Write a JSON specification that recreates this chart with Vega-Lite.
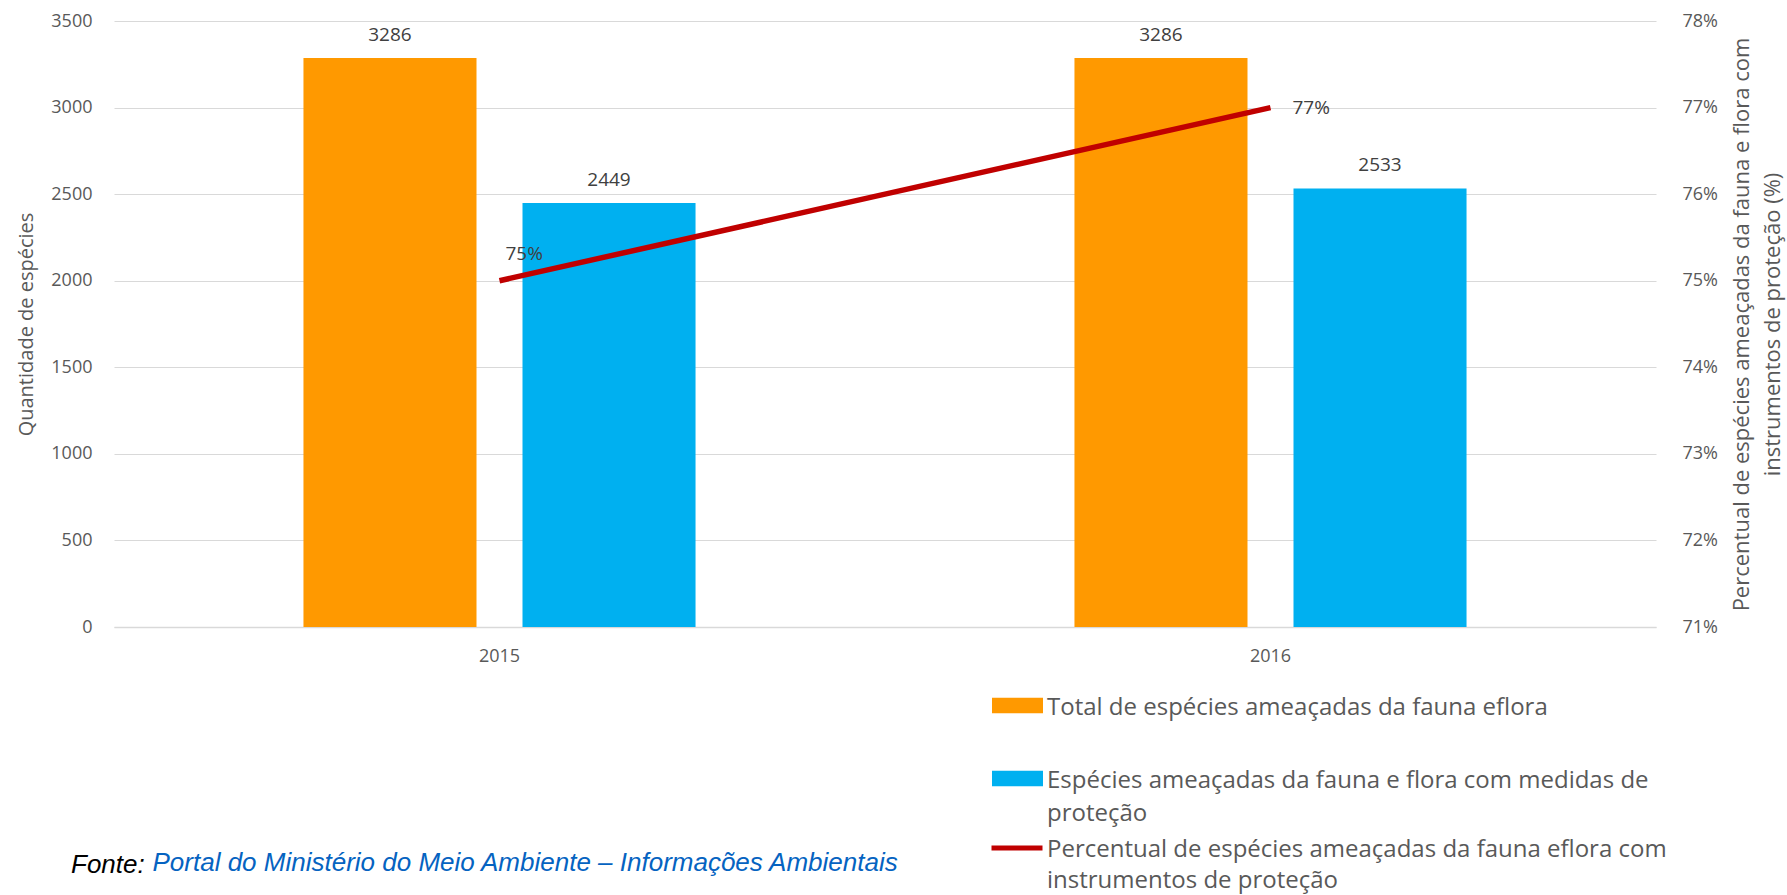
{
  "$schema": "https://vega.github.io/schema/vega-lite/v6.json",
  "autosize": {"type": "none"},
  "padding": {"left": 114, "top": 21, "right": 131, "bottom": 268},
  "width": 1542,
  "height": 606,
  "background": "white",
  "config": {"font": "Open Sans", "view": {"stroke": null}},
  "title": {
    "text": "Fonte:",
    "orient": "bottom",
    "anchor": "start",
    "frame": "group",
    "baseline": "alphabetic",
    "offset": -20,
    "dx": -43,
    "font": "Liberation Sans",
    "fontStyle": "italic",
    "fontWeight": "normal",
    "fontSize": 26,
    "color": "#000000"
  },
  "datasets": {
    "barras": [
      {"ano": "2015", "serie": "Total de espécies ameaçadas da fauna eflora", "quantidade": 3286},
      {"ano": "2015", "serie": "Espécies ameaçadas da fauna e flora com medidas de proteção", "quantidade": 2449},
      {"ano": "2016", "serie": "Total de espécies ameaçadas da fauna eflora", "quantidade": 3286},
      {"ano": "2016", "serie": "Espécies ameaçadas da fauna e flora com medidas de proteção", "quantidade": 2533}
    ],
    "linha": [
      {"ano": "2015", "serie": "Percentual de espécies ameaçadas da fauna eflora com instrumentos de proteção", "percentual": 0.75},
      {"ano": "2016", "serie": "Percentual de espécies ameaçadas da fauna eflora com instrumentos de proteção", "percentual": 0.77}
    ]
  },
  "encoding": {
    "x": {
      "field": "ano",
      "type": "nominal",
      "scale": {"paddingInner": 0, "paddingOuter": 0},
      "axis": {
        "title": "Portal do Ministério do Meio Ambiente – Informações Ambientais",
        "titleX": 38,
        "titleY": 243,
        "titleAlign": "left",
        "titleBaseline": "alphabetic",
        "titleColor": "#0563C1",
        "titleFont": "Liberation Sans",
        "titleFontStyle": "italic",
        "titleFontWeight": "normal",
        "titleFontSize": 26,
        "labelAngle": 0,
        "labelFontSize": 18,
        "labelColor": "#595959",
        "labelPadding": 20,
        "ticks": false,
        "domainColor": "#D9D9D9",
        "domainWidth": 1.5,
        "grid": false
      }
    }
  },
  "layer": [
    {
      "data": {"name": "barras"},
      "encoding": {
        "xOffset": {
          "field": "serie",
          "type": "nominal",
          "sort": ["Total de espécies ameaçadas da fauna eflora", "Espécies ameaçadas da fauna e flora com medidas de proteção"],
          "scale": {"paddingInner": 0.21, "paddingOuter": 0.865}
        },
        "y": {
          "field": "quantidade",
          "type": "quantitative",
          "scale": {"domain": [0, 3500], "nice": false},
          "axis": {
            "values": [0, 500, 1000, 1500, 2000, 2500, 3000, 3500],
            "format": "d",
            "title": "Quantidade de espécies",
            "titleFontSize": 20,
            "titleColor": "#595959",
            "titleFontWeight": "normal",
            "titlePadding": 14,
            "labelFontSize": 18,
            "labelColor": "#595959",
            "labelPadding": 22,
            "ticks": false,
            "domain": false,
            "gridColor": "#D9D9D9",
            "gridWidth": 1.2
          }
        }
      },
      "layer": [
        {
          "mark": {"type": "bar"},
          "encoding": {
            "fill": {
              "field": "serie",
              "type": "nominal",
              "scale": {
                "domain": ["Total de espécies ameaçadas da fauna eflora", "Espécies ameaçadas da fauna e flora com medidas de proteção"],
                "range": ["#FF9900", "#00B0F0"]
              },
              "legend": {
                "orient": "none",
                "legendX": 878,
                "legendY": 659,
                "title": null,
                "padding": 0,
                "symbolType": "M-1,-0.3H1V0.3H-1Z",
                "symbolSize": 2601,
                "symbolStrokeWidth": 0,
                "symbolOpacity": 1,
                "labelFontSize": 24,
                "labelColor": "#595959",
                "labelLimit": 900,
                "labelOffset": 4,
                "labelBaseline": "alphabetic",
                "rowPadding": 33,
                "labelExpr": "datum.label == 'Espécies ameaçadas da fauna e flora com medidas de proteção' ? ['Espécies ameaçadas da fauna e flora com medidas de', 'proteção'] : datum.label",
                "encode": {"labels": {"update": {"dy": {"value": 9}, "lineHeight": {"value": 33}}}}
              }
            }
          }
        },
        {
          "mark": {"type": "text", "baseline": "middle", "dy": -23, "fontSize": 19, "fill": "#404040"},
          "encoding": {"text": {"field": "quantidade", "type": "quantitative", "format": "d"}}
        }
      ]
    },
    {
      "data": {"name": "linha"},
      "encoding": {
        "y": {
          "field": "percentual",
          "type": "quantitative",
          "scale": {"domain": [0.71, 0.78], "nice": false, "zero": false},
          "axis": {
            "orient": "right",
            "values": [0.71, 0.72, 0.73, 0.74, 0.75, 0.76, 0.77, 0.78],
            "format": ".0%",
            "title": ["Percentual de espécies ameaçadas da fauna e flora com", "instrumentos de proteção (%)"],
            "titleAngle": 270,
            "titleBaseline": "top",
            "titleFontSize": 22,
            "titleLineHeight": 31,
            "titleColor": "#595959",
            "titleFontWeight": "normal",
            "titlePadding": -17,
            "labelFontSize": 18,
            "labelColor": "#595959",
            "labelPadding": 26,
            "ticks": false,
            "domain": false,
            "grid": false
          }
        }
      },
      "layer": [
        {
          "mark": {"type": "line", "strokeWidth": 5.5},
          "encoding": {
            "stroke": {
              "field": "serie",
              "type": "nominal",
              "scale": {"range": ["#C00000"]},
              "legend": {
                "orient": "none",
                "legendX": 875,
                "legendY": 799,
                "title": null,
                "padding": 0,
                "symbolType": "M-1,0H1",
                "symbolSize": 2601,
                "symbolStrokeWidth": 5,
                "labelFontSize": 24,
                "labelColor": "#595959",
                "labelLimit": 900,
                "labelOffset": 2,
                "labelBaseline": "alphabetic",
                "labelExpr": "['Percentual de espécies ameaçadas da fauna eflora com', 'instrumentos de proteção']",
                "encode": {"labels": {"update": {"dy": {"value": 9}, "lineHeight": {"value": 31}}}}
              }
            }
          }
        },
        {
          "transform": [{"filter": "datum.ano == '2015'"}],
          "mark": {"type": "text", "align": "left", "baseline": "middle", "dx": 6, "dy": -27, "fontSize": 19, "fill": "#404040"},
          "encoding": {"text": {"field": "percentual", "type": "quantitative", "format": ".0%"}}
        },
        {
          "transform": [{"filter": "datum.ano == '2016'"}],
          "mark": {"type": "text", "align": "left", "baseline": "middle", "dx": 22, "dy": 0, "fontSize": 19, "fill": "#404040"},
          "encoding": {"text": {"field": "percentual", "type": "quantitative", "format": ".0%"}}
        }
      ]
    }
  ],
  "resolve": {"scale": {"y": "independent"}}
}
